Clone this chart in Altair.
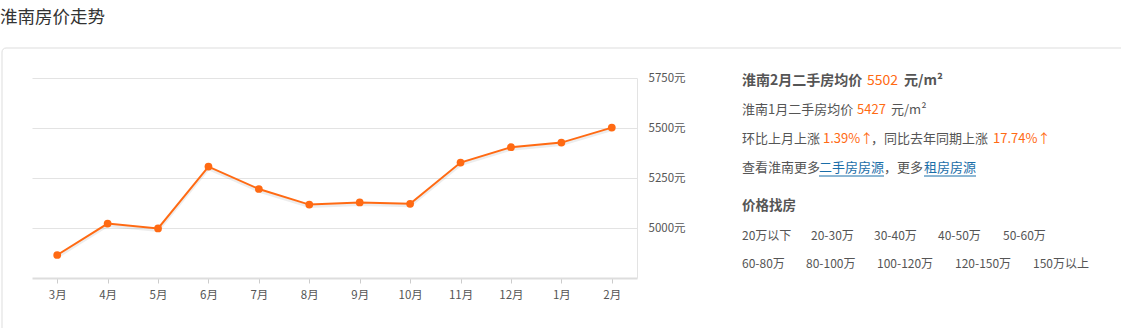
import altair as alt
import pandas as pd

# ---- data ----
months = ["3月", "4月", "5月", "6月", "7月", "8月", "9月", "10月", "11月", "12月", "1月", "2月"]
prices = [4865, 5022, 4998, 5307, 5195, 5117, 5128, 5121, 5327, 5404, 5427, 5502]
y_ticks = [5000, 5250, 5500, 5750]

title_text = "淮南房价走势"
row1 = ["20万以下", "20-30万", "30-40万", "40-50万", "50-60万"]
row2 = ["60-80万", "80-100万", "100-120万", "120-150万", "150万以上"]

FONT = "Noto Sans CJK SC"
ORANGE = "#ff6a13"
GRAY = "#555555"
LINK = "#1a6ea8"

OX, OY = 32, 78  # plot origin on the page

df = pd.DataFrame({"month": months, "price": prices})
one = pd.DataFrame({"d": [0]})

xenc = alt.X("month:N", sort=months, scale=alt.Scale(type="point", padding=0.5),
             axis=alt.Axis(title=None, domainColor="#dddddd", domainWidth=2,
                           tickColor="#cccccc", tickSize=5, labelAngle=0,
                           labelFont=FONT, labelFontSize=11.5, labelColor=GRAY,
                           labelPadding=6, grid=False))
yenc = alt.Y("price:Q", scale=alt.Scale(domain=[4750, 5750], nice=False, zero=False),
             axis=alt.Axis(title=None, orient="right", values=y_ticks,
                           labelExpr="datum.value + '元'", ticks=False,
                           domainColor="#e3e3e3", gridColor="#e3e3e3",
                           labelFont=FONT, labelFontSize=11.5, labelColor=GRAY,
                           labelPadding=11, labelBaseline="middle"))

base = alt.Chart(df)
shadow = base.mark_line(color="#999999", opacity=0.18, strokeWidth=3, yOffset=2).encode(x=xenc, y=yenc)
line = base.mark_line(color=ORANGE, strokeWidth=2).encode(x=xenc, y=yenc)
pts = base.mark_circle(color=ORANGE, opacity=1, size=60).encode(x=xenc, y=yenc)


def txt(s, px, py, color=GRAY, size=13, weight="normal"):
    return alt.Chart(one).mark_text(text=s, align="left", baseline="middle", font=FONT,
                                    fontSize=size, fontWeight=weight, color=color).encode(
        x=alt.value(px - OX), y=alt.value(py - OY))


def under(px1, px2, py, color=LINK):
    return alt.Chart(one).mark_rule(color=color, strokeWidth=1).encode(
        x=alt.value(px1 - OX), x2=alt.value(px2 - OX), y=alt.value(py - OY))


box = alt.Chart(one).mark_rect(fill=None, stroke="#dddddd", strokeWidth=1, cornerRadius=4).encode(
    x=alt.value(2 - OX), x2=alt.value(1130 - OX), y=alt.value(48 - OY), y2=alt.value(340 - OY))

layers = [box, shadow, line, pts,
          txt(title_text, 0, 18, color="#333333", size=17.5)]

# right panel
layers += [
    txt("淮南2月二手房均价", 742, 81, size=14, weight="bold"),
    txt("5502", 867, 81, color=ORANGE, size=14),
    txt("元/m²", 904, 81, size=14, weight="bold"),
    txt("淮南1月二手房均价", 742, 110, size=13),
    txt("5427", 857, 110, color=ORANGE, size=13),
    txt("元/m²", 891, 110, size=13),
    txt("环比上月上涨", 742, 139, size=13),
    txt("1.39%↑", 823, 139, color=ORANGE, size=13),
    txt("，同比去年同期上涨", 871, 139, size=13),
    txt("17.74%↑", 993, 139, color=ORANGE, size=13),
    txt("查看淮南更多", 742, 168, size=13),
    txt("二手房房源", 819, 168, color=LINK, size=13),
    under(819, 884, 176),
    txt("，更多", 884, 168, size=13),
    txt("租房房源", 924, 168, color=LINK, size=13),
    under(924, 976, 176),
    txt("价格找房", 742, 206, size=13.5, weight="bold"),
]
for s, px in zip(row1, [742, 811, 874, 938, 1003]):
    layers.append(txt(s, px, 236, size=12))
for s, px in zip(row2, [742, 806, 877, 955, 1033]):
    layers.append(txt(s, px, 264, size=12))

chart = alt.layer(*layers).properties(
    width=605, height=200,
    autosize=alt.AutoSizeParams(type="none"),
    padding={"left": OX, "top": OY, "right": 1121 - OX - 605, "bottom": 328 - OY - 200},
    background="white",
).configure_view(stroke=None)

chart.save("out.html", embed_options={"renderer": "svg", "actions": False})
